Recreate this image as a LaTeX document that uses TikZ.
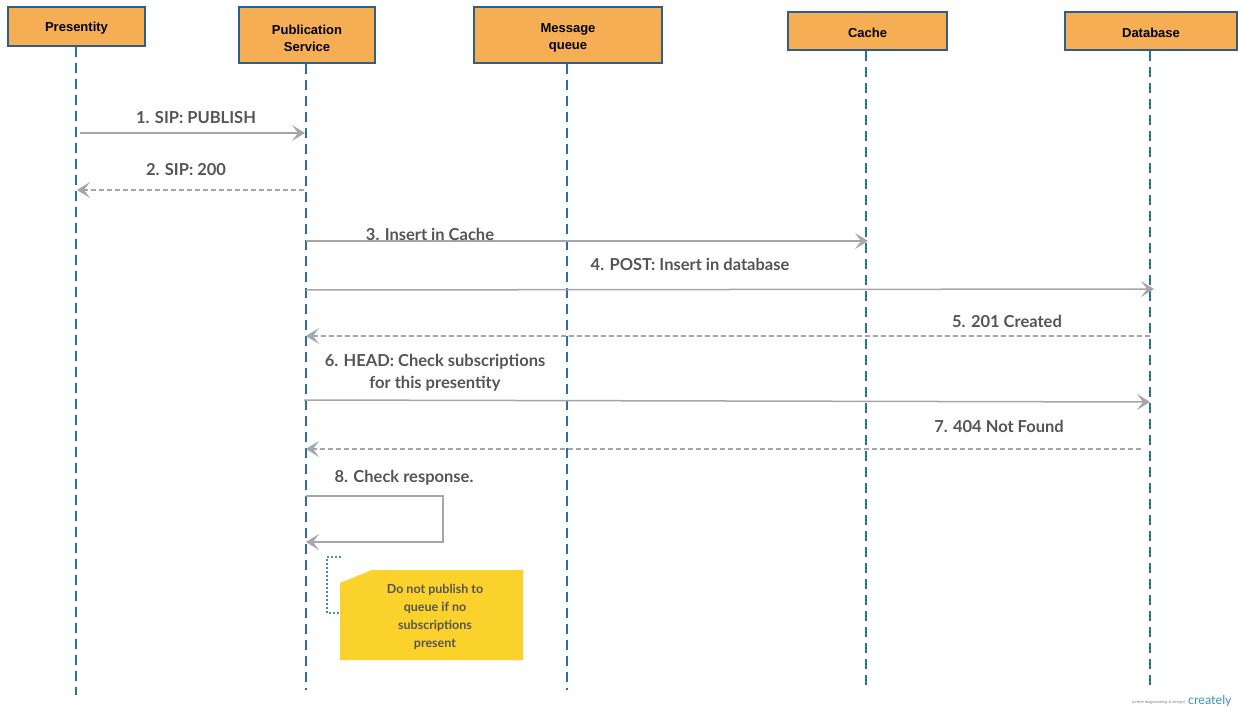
\documentclass[tikz,border=0pt]{standalone}
\usepackage{fontspec}
\setmainfont{Lato}
\newfontfamily\headfont{Liberation Sans}
\usetikzlibrary{arrows.meta}
\definecolor{boxfill}{HTML}{F6AE55}
\definecolor{boxline}{HTML}{2D5F88}
\definecolor{lifeblue}{HTML}{2F6FA0}
\definecolor{msggray}{HTML}{A6A6A6}
\definecolor{txtgray}{HTML}{555555}
\definecolor{noteyellow}{HTML}{FBD12C}
\definecolor{dotblue}{HTML}{3A8FD0}
\tikzset{
  actor/.style={draw=boxline, line width=1.3pt, fill=boxfill, inner sep=0pt,
    font=\headfont\bfseries\fontsize{13}{17}\selectfont, align=center, text=black},
  lifeline/.style={draw=lifeblue, line width=1.4pt, dash pattern=on 10pt off 6pt},
  msg/.style={draw=msggray, line width=1.5pt, -{Stealth[length=13pt,width=16pt,inset=6pt]}},
  reply/.style={msg, dash pattern=on 5pt off 3pt},
  lbl/.style={font=\bfseries\fontsize{16.5}{22}\selectfont, text=txtgray, align=center, inner sep=0pt},
  notetext/.style={font=\bfseries\fontsize{12.5}{18}\selectfont, text=txtgray, align=center, inner sep=0pt}
}
\begin{document}
\begin{tikzpicture}[x=1pt,y=-1pt]
\useasboundingbox (0,0) rectangle (1238,708);
% actors
\node[actor, minimum width=137pt, minimum height=39pt] (pres) at (76.5,26.5) {};
\node[actor, minimum width=136pt, minimum height=56pt] (pub) at (307,35) {};
\node[actor, minimum width=188pt, minimum height=56pt] (mq) at (568,35) {};
\node[actor, minimum width=159pt, minimum height=38pt] (cache) at (867.5,31) {};
\node[actor, minimum width=172pt, minimum height=38pt] (db) at (1151,31) {};
\node[actor, draw=none, fill=none] (presT) at ([yshift=-2pt]pres.center) {Presentity};
\node[actor, draw=none, fill=none] (pubT) at ([yshift=-3pt]pub.center) {Publication\\Service};
\node[actor, draw=none, fill=none] (mqT) at ([yshift=-3pt]mq.center) {Message\\queue};
\node[actor, draw=none, fill=none] (cacheT) at ([yshift=-2pt]cache.center) {Cache};
\node[actor, draw=none, fill=none] (dbT) at ([yshift=-2pt]db.center) {Database};
% lifeline ends
\coordinate (presE) at (76,695);
\coordinate (pubE) at (306,690);
\coordinate (mqE) at (567,690);
\coordinate (cacheE) at (866,685);
\coordinate (dbE) at (1150,685);
\draw[lifeline] (pres.south -| presE) -- (presE);
\draw[lifeline] (pub.south -| pubE) -- (pubE);
\draw[lifeline] (mq.south -| mqE) -- (mqE);
\draw[lifeline] (cache.south -| cacheE) -- (cacheE);
\draw[lifeline] (db.south -| dbE) -- (dbE);
% message coordinates
\coordinate (m1a) at (80,133);   \coordinate (m1b) at (305,133);
\coordinate (m2a) at (304,190);  \coordinate (m2b) at (77,190);
\coordinate (m3a) at (306,241);  \coordinate (m3b) at (868,241);
\coordinate (m4a) at (306,290);  \coordinate (m4b) at (1154,289);
\coordinate (m5a) at (1150,336); \coordinate (m5b) at (306,336);
\coordinate (m6a) at (304,400);  \coordinate (m6b) at (1150,402);
\coordinate (m7a) at (1141,449); \coordinate (m7b) at (306,449);
\coordinate (m8a) at (306,496);  \coordinate (m8b) at (443,496);
\coordinate (m8c) at (443,542);  \coordinate (m8d) at (306,542);
\draw[msg] (m1a) -- (m1b);
\draw[reply] (m2a) -- (m2b);
\draw[msg] (m3a) -- (m3b);
\draw[msg] (m4a) -- (m4b);
\draw[reply] (m5a) -- (m5b);
\draw[msg] (m6a) -- (m6b);
\draw[reply] (m7a) -- (m7b);
\draw[msg] (m8a) -- (m8b) -- (m8c) -- (m8d);
% labels
\node[lbl] (l1) at (196,118) {1. SIP: PUBLISH};
\node[lbl] (l2) at (186,170) {2. SIP: 200};
\node[lbl] (l3) at (430,234) {3. Insert in Cache};
\node[lbl] (l4) at (690,264) {4. POST: Insert in database};
\node[lbl] (l5) at (1007,321) {5. 201 Created};
\node[lbl] (l6) at (435,373) {6. HEAD: Check subscriptions\\for this presentity};
\node[lbl] (l7) at (999,426) {7. 404 Not Found};
\node[lbl] (l8) at (404,478) {8. Check response.};
% note
\fill[noteyellow] (340,583) -- (372,570) -- (523,570) -- (523,660) -- (340,660) -- cycle;
\node[notetext] (note) at (435,617) {Do not publish to\\queue if no\\subscriptions\\present};
\coordinate (br1) at (341,557); \coordinate (br2) at (327,557);
\coordinate (br3) at (327,613); \coordinate (br4) at (341,613);
\draw[dotblue, line width=1.2pt, dash pattern=on 2pt off 2pt] (br1) -- (br2) -- (br3) -- (br4);
% watermark
\node[font=\fontsize{4}{5}\selectfont, text=gray, anchor=east, inner sep=0pt] (wm1) at (1185,702) {(online diagramming \& design)};
\node[font=\fontsize{12.5}{14}\selectfont, text=dotblue, anchor=west, inner sep=0pt] (wm2) at (1188,701) {creately};
\end{tikzpicture}
\end{document}
